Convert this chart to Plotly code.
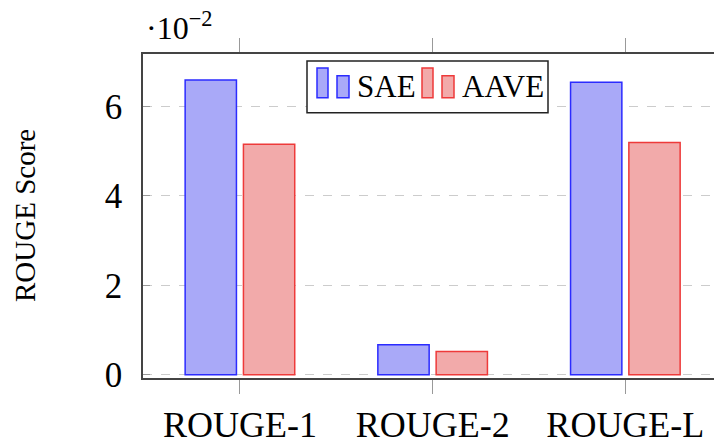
import plotly.graph_objects as go

# ROUGE scores (in units of 1e-2)
metrics = ["ROUGE-1", "ROUGE-2", "ROUGE-L"]
series_names = ["SAE", "AAVE"]
sae_scores = [6.59, 0.67, 6.54]
aave_scores = [5.15, 0.52, 5.19]
y_ticks = [0, 2, 4, 6]

fills = ["#a9a9f8", "#f2aaaa"]
edges = ["#2b2bff", "#ee3a3a"]
serif = "Liberation Serif"

W, H = 714, 445
L, R, T, B = 143, 0, 54, 65
pw, ph = W - L - R, H - T - B


def px(x):
    return (x - L) / pw


def py(y):
    return (H - B - y) / ph


fig = go.Figure()
for name, vals, fc, ec in zip(series_names, [sae_scores, aave_scores], fills, edges):
    fig.add_trace(go.Bar(
        x=metrics, y=vals, name=name,
        marker=dict(color=fc, line=dict(color=ec, width=1.5)),
        showlegend=False,
    ))

# hand-built legend box in the pgfplots style (two small bars per entry)
shapes = [dict(type="rect", xref="paper", yref="paper",
               x0=px(307), x1=px(548), y0=py(113), y1=py(61),
               line=dict(color="#222222", width=1.5), fillcolor="white", layer="above")]
annotations = []
entries = [(317, 337, 357), (422, 442, 462)]
for (xa, xb, xt), name, fc, ec in zip(entries, series_names, fills, edges):
    shapes.append(dict(type="rect", xref="paper", yref="paper",
                       x0=px(xa), x1=px(xa + 11), y0=py(98), y1=py(68),
                       line=dict(color=ec, width=1.5), fillcolor=fc, layer="above"))
    shapes.append(dict(type="rect", xref="paper", yref="paper",
                       x0=px(xb), x1=px(xb + 12), y0=py(98), y1=py(76),
                       line=dict(color=ec, width=1.5), fillcolor=fc, layer="above"))
    annotations.append(dict(xref="paper", yref="paper", x=px(xt - 2), y=py(87),
                            xanchor="left", yanchor="middle", text=name, showarrow=False,
                            font=dict(family=serif, size=31, color="black")))

# axis scale multiplier
annotations.append(dict(xref="paper", yref="paper", x=px(144), y=py(48),
                        xanchor="left", yanchor="bottom", showarrow=False,
                        text="·10<sup>−2</sup>",
                        font=dict(family=serif, size=32, color="black")))
# y-axis title
annotations.append(dict(xref="paper", yref="paper", x=px(25), y=py(217),
                        xanchor="center", yanchor="middle", showarrow=False,
                        text="ROUGE Score", textangle=-90,
                        font=dict(family=serif, size=29, color="black")))

fig.update_layout(
    width=W, height=H,
    margin=dict(l=L, r=R, t=T, b=B, pad=0),
    paper_bgcolor="white", plot_bgcolor="white",
    barmode="group", bargap=0.395, bargroupgap=0.12,
    shapes=shapes, annotations=annotations,
    font=dict(family=serif, color="black"),
)
fig.update_xaxes(
    range=[-0.503, 2.46],
    showline=True, linecolor="#444444", linewidth=1.5, mirror="ticks",
    ticks="outside", ticklen=14, tickcolor="#999999", tickwidth=1,
    showgrid=False, zeroline=False,
    tickfont=dict(family=serif, size=36, color="black"),
)
fig.update_yaxes(
    range=[-0.073, 7.17],
    tickvals=y_ticks, ticktext=[str(v) for v in y_ticks],
    showline=True, linecolor="#444444", linewidth=1.5, mirror=False,
    ticks="inside", ticklen=7, tickcolor="#999999", tickwidth=1,
    showgrid=True, gridcolor="#cccccc", griddash="dash", gridwidth=1,
    zeroline=False,
    tickfont=dict(family=serif, size=35, color="black"),
    ticklabelstandoff=12,
)

fig.write_html("out.html")
